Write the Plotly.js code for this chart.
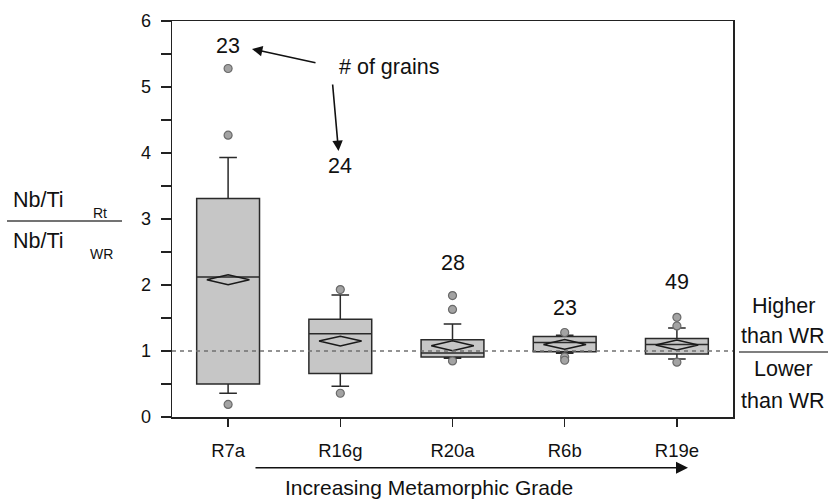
<!DOCTYPE html>
<html>
<head>
<meta charset="utf-8">
<script src="https://cdn.plot.ly/plotly-3.0.1.min.js"></script>
<style>html,body{margin:0;padding:0;background:#fff;}#chart{width:834px;height:501px;}</style>
</head>
<body>
<div id="chart"></div>
<script>
// ---- data ----
const categories = ["R7a", "R16g", "R20a", "R6b", "R19e"];
const q1Vals     = [0.50, 0.66, 0.91, 0.99, 0.955];
const medianVals = [2.12, 1.26, 0.97, 1.13, 1.10];
const q3Vals     = [3.31, 1.48, 1.17, 1.22, 1.19];
const lowerFence = [0.36, 0.465, 0.89, 0.965, 0.88];
const upperFence = [3.93, 1.85, 1.41, 1.24, 1.35];
const meanVals   = [2.08, 1.15, 1.08, 1.10, 1.09];
const grainCounts = [23, 24, 28, 23, 49];
const outlierCat = ["R7a","R7a","R7a","R16g","R16g","R20a","R20a","R20a","R6b","R6b","R6b","R19e","R19e","R19e"];
const outlierVal = [5.28, 4.27, 0.19, 1.93, 0.36, 1.84, 1.63, 0.85, 1.28, 0.91, 0.86, 1.51, 1.38, 0.83];
const yTickVals = [0, 1, 2, 3, 4, 5, 6];

// ---- layout constants (positions of count labels) ----
const countLabelY = [5.62, 3.80, 2.34, 1.65, 2.04];

const pos = categories.map((c, i) => i);
const catIndex = c => categories.indexOf(c);

// mean diamonds as outline polygons around each mean
const dHalfW = 0.19, dHalfH = 0.075;
const dx = [], dy = [];
meanVals.forEach((m, i) => {
  dx.push(i - dHalfW, i, i + dHalfW, i, i - dHalfW, null);
  dy.push(m, m + dHalfH, m, m - dHalfH, m, null);
});

const FONT = "Liberation Sans, Arial, Helvetica, sans-serif";
const DARK = "#222";
const TXT = 21.5;

const traces = [
  {
    type: "box",
    x: pos,
    q1: q1Vals, median: medianVals, q3: q3Vals,
    lowerfence: lowerFence, upperfence: upperFence,
    boxpoints: false,
    fillcolor: "#c6c6c6",
    line: { color: "#2a2a2a", width: 1.5 },
    whiskerwidth: 0.28,
    showlegend: false,
    hoverinfo: "skip"
  },
  {
    type: "scatter", mode: "lines",
    x: dx, y: dy,
    line: { color: "#1a1a1a", width: 1.5 },
    showlegend: false, hoverinfo: "skip"
  },
  {
    type: "scatter", mode: "markers",
    x: outlierCat.map(catIndex), y: outlierVal,
    marker: { size: 8, color: "#a3a3a3", line: { color: "#6a6a6a", width: 1.2 } },
    showlegend: false, hoverinfo: "skip"
  }
];

const W = 834, H = 501;
const L = 172, R = 101, T = 21, B = 84;
const pw = W - L - R, ph = H - T - B;
const px = x => (x - L) / pw;
const py = y => (H - B - y) / ph;

function txt(x, y, text, size) {
  return { x: px(x), y: py(y), xref: "paper", yref: "paper", xanchor: "center", yanchor: "middle",
    text: text, showarrow: false, font: { family: FONT, size: size || TXT, color: "#111" } };
}
function arrow(hx, hy, tx, ty, size, width) {
  return { x: px(hx), y: py(hy), xref: "paper", yref: "paper", text: "", showarrow: true,
    axref: "pixel", ayref: "pixel", ax: tx - hx, ay: ty - hy,
    arrowhead: 2, arrowsize: size, arrowwidth: width, arrowcolor: "#111" };
}

const annotations = [];
grainCounts.forEach((n, i) => {
  annotations.push({
    x: i, y: countLabelY[i], xref: "x", yref: "y", xanchor: "center", yanchor: "middle",
    text: String(n), showarrow: false,
    font: { family: FONT, size: TXT, color: "#111" }
  });
});
annotations.push(
  txt(389, 67, "# of grains"),
  arrow(252, 49, 317, 63, 1.3, 1.6),
  arrow(338.5, 151, 332.5, 83, 1.3, 1.6),
  arrow(688, 467.7, 254, 467.7, 1.5, 1.6),
  txt(429, 487.5, "Increasing Metamorphic Grade", 21),
  txt(783, 306, "Higher"),
  txt(783, 336, "than WR"),
  txt(783, 369, "Lower"),
  txt(783, 401, "than WR"),
  txt(38, 200, "Nb/Ti"),
  txt(38, 241, "Nb/Ti"),
  txt(100, 213, "Rt", 14),
  txt(101, 254, "WR", 14)
);

const shapes = [
  { type: "line", xref: "paper", yref: "y", x0: 0, x1: 1, y0: 1, y1: 1, layer: "above",
    line: { color: "#707070", width: 1.3, dash: "4px,4px" } },
  { type: "line", xref: "paper", yref: "paper", x0: px(739), x1: px(828), y0: py(352), y1: py(352),
    line: { color: "#555", width: 1.5 } },
  { type: "line", xref: "paper", yref: "paper", x0: px(7), x1: px(122), y0: py(221), y1: py(221),
    line: { color: "#444", width: 1.5 } }
];

const layout = {
  width: W, height: H,
  margin: { l: L, r: R, t: T, b: B, pad: 0 },
  paper_bgcolor: "#fff", plot_bgcolor: "#fff",
  font: { family: FONT, color: "#111" },
  showlegend: false,
  boxgap: 0.2,
  xaxis: {
    range: [-0.5, 4.5], tickvals: pos, ticktext: categories,
    ticks: "outside", ticklen: 8, tickwidth: 1.5, tickcolor: DARK,
    ticklabelstandoff: 8,
    showline: true, linecolor: DARK, linewidth: 1.5, mirror: true,
    showgrid: false, zeroline: false,
    tickfont: { family: FONT, size: 18.5, color: "#111" }
  },
  yaxis: {
    range: [0, 6], tickvals: yTickVals,
    ticks: "outside", ticklen: 10, tickwidth: 1.5, tickcolor: DARK,
    ticklabelstandoff: 6,
    minor: { dtick: 0.5, ticks: "outside", ticklen: 10, tickwidth: 1.5, tickcolor: DARK, showgrid: false },
    showline: true, linecolor: DARK, linewidth: 1.5, mirror: true,
    showgrid: false, zeroline: false,
    tickfont: { family: FONT, size: 18, color: "#111" }
  },
  annotations: annotations,
  shapes: shapes
};

Plotly.newPlot("chart", traces, layout, { displayModeBar: false, staticPlot: true });
</script>
</body>
</html>
